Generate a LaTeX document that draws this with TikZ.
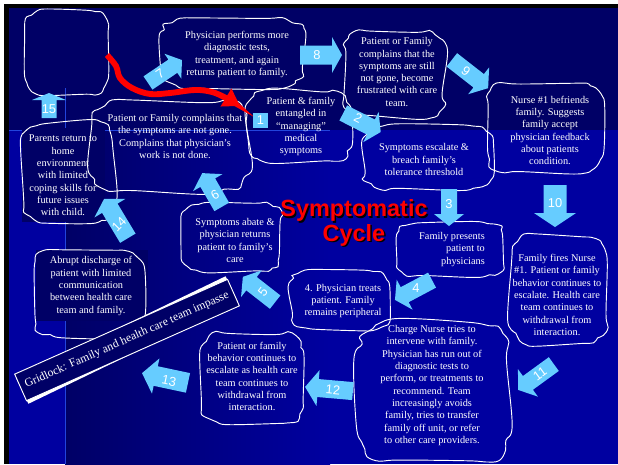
\documentclass[tikz,border=0pt]{standalone}
\usepackage{fontspec}
\setmainfont{Liberation Serif}
\setsansfont{Liberation Sans}
\usetikzlibrary{arrows.meta}
\newcommand{\pxu}{0.03cm}
\definecolor{navydark}{HTML}{000066}
\definecolor{navybright}{HTML}{0000A0}
\definecolor{stepblue}{HTML}{66CCFF}
\definecolor{gridline}{HTML}{2244DD}
% block arrow: name, position, angle, length, half shaft, half head, head length
\newcommand{\steparrow}[7]{%
  \fill[stepblue, shift={#2}, rotate=#3] (-#4/2,-#5) -- (#4/2-#7,-#5) -- (#4/2-#7,-#6)
    -- (#4/2,0) -- (#4/2-#7,#6) -- (#4/2-#7,#5) -- (-#4/2,#5) -- cycle;
  \coordinate (#1) at #2;}
% wobbly outline: name, x, y, half width, half height
\newcommand{\blob}[5]{%
  \draw[blobline] plot[smooth cycle, tension=0.65, domain=7.5:352.5, samples=24, variable=\t]
    ({#2+#4*cos(\t)/abs(cos(\t))^0.62*(1+0.055*rand)}, {#3+#5*sin(\t)/abs(sin(\t))^0.62*(1+0.055*rand)});
  \coordinate (#1) at (#2,#3);}
\tikzset{
  blobline/.style={draw=white, line width=0.8pt},
  txt/.style={text=white, align=center, inner sep=0pt,
    font=\fontsize{8.8}{10.5}\selectfont},
  stepnum/.style={text=white, inner sep=0pt, font=\sffamily\fontsize{11}{11}\selectfont},
  titletxt/.style={align=center, inner sep=0pt, font=\sffamily\bfseries\fontsize{20}{21}\selectfont},
  bannerbox/.style={rotate=24, inner sep=0pt, minimum width=233*\pxu, minimum height=29*\pxu},
}
\begin{document}
\begin{tikzpicture}[x=\pxu, y=-\pxu]
  \pgfmathsetseed{11}
  \useasboundingbox (0,0) rectangle (618,464);
  % slide background
  \fill[white] (0,0) rectangle (618,464);
  \fill[black] (4,4) rectangle (618,464);
  \fill[navydark] (9,8) rectangle (618,130);
  \fill[navybright] (9,130) rectangle (65,464);
  \shade[left color=navydark, right color=navybright] (65,130) rectangle (330,464);
  \fill[navybright] (330,130) rectangle (618,464);
  \draw[gridline, line width=0.6pt] (9,130) -- (330,130);
  \draw[gridline, line width=0.6pt] (65,88) -- (65,464);
  \fill[navydark] (22,128) rectangle (105,222);
  \fill[navydark] (36,250) rectangle (148,321);

  % clouds
  \blob{blank}{66.5}{52.5}{41.5}{42.5}
  \blob{moretests}{232.5}{53}{72.5}{35}
  \blob{stillsick}{394}{74}{51}{44}
  \blob{befriend}{544}{127.5}{59}{45.5}
  \blob{entangled}{298.5}{126.5}{51.5}{36.5}
  \blob{notgone}{170}{146.5}{80}{46.5}
  \blob{parents}{68.5}{172}{46.5}{50}
  \blob{escalate}{429}{157.5}{66}{32.5}
  \blob{presents}{451}{249.5}{54}{27.5}
  \blob{fires}{559}{290}{49}{55}
  \blob{treats}{340}{300}{50}{30}
  \blob{charge}{433.5}{392.5}{76.5}{70.5}
  \blob{withdraw}{252.5}{377.5}{52.5}{45.5}
  \blob{abate}{232}{237.5}{50}{34.5}
  \blob{discharge}{88}{292.5}{55}{44.5}

  % texts
  \node[txt] (tmoretests) at (237,54.5) {Physician performs more\\diagnostic tests,\\treatment, and again\\returns patient to family.};
  \node[txt] (tstillsick) at (397,72) {Patient or Family\\complains that the\\symptoms are still\\not gone, become\\frustrated with care\\team.};
  \node[txt] (tbefriend) at (550,130.5) {Nurse \#1 befriends\\family. Suggests\\family accept\\physician feedback\\about patients\\condition.};
  \node[txt] (tentangled) at (301,126.5) {Patient \& family\\entangled in\\“managing”\\medical\\symptoms};
  \node[txt] (tnotgone) at (175,136.5) {Patient or Family complains that\\the symptoms are not gone.\\Complains that physician’s\\work is not done.};
  \node[txt] (tparents) at (63,175.5) {Parents return to\\home\\environment\\with limited\\coping skills for\\future issues\\with child.};
  \node[txt] (tescalate) at (424,159.5) {Symptoms escalate \&\\breach family’s\\tolerance threshold};
  \node[txt, align=right, anchor=east] (tpresents) at (485,249.5) {Family presents\\patient to\\physicians};
  \node[txt] (tfires) at (557,295) {Family fires Nurse\\\#1. Patient or family\\behavior continues to\\escalate. Health care\\team continues to\\withdrawal from\\interaction.};
  \node[txt] (ttreats) at (343,301) {4. Physician treats\\patient. Family\\remains peripheral};
  \node[txt] (tcharge) at (432,385.5) {Charge Nurse tries to\\intervene with family.\\Physician has run out of\\diagnostic tests to\\perform, or treatments to\\recommend. Team\\increasingly avoids\\family, tries to transfer\\family off unit, or refer\\to other care providers.};
  \node[txt] (twithdraw) at (252,376.5) {Patient or family\\behavior continues to\\escalate as health care\\team continues to\\withdrawal from\\interaction.};
  \node[txt] (tabate) at (235,240.5) {Symptoms abate \&\\physician returns\\patient to family’s\\care};
  \node[txt] (tdischarge) at (91,286) {Abrupt discharge of\\patient with limited\\communication\\between health care\\team and family.};

  % title
  \node[titletxt, text=black] (titleshadow) at (355.5,224.5) {Symptomatic\\Cycle};
  \node[titletxt, text=red] (title) at (354,223) {Symptomatic\\Cycle};

  % gridlock banner
  \node[bannerbox, fill=white, rotate=1.8] (gridshadow) at (127,340) {};
  \node[bannerbox, draw=white, line width=0.8pt, fill=navydark, text=white,
    font=\fontsize{10}{12}\selectfont] (gridlock) at (127,340)
    {Gridlock: Family and health care team impasse};

  % red path
  \coordinate (redstart) at (107,55);
  \coordinate (redend) at (240,106);
  \draw[red, line width=5pt, -{Triangle[length=14pt, width=17pt]}]
    plot[smooth, tension=0.6] coordinates {(redstart) (116,66) (120,78) (132,88)
      (150,94) (170,93) (195,90) (212,92) (226,98) (redend)};

  % step arrows
  \node[fill=stepblue, minimum size=15*\pxu, inner sep=0pt, stepnum] (one) at (260.5,120.5) {1};
  \steparrow{a2}{(362,122.5)}{-27}{42}{8.5}{17}{11}
  \steparrow{a3}{(449,207.5)}{-90}{37}{8}{15}{12}
  \steparrow{a4}{(413.5,290)}{208}{42}{8.5}{17}{11}
  \steparrow{a5}{(259,289.5)}{142}{41}{8.5}{17}{11}
  \steparrow{a6}{(212,190)}{120}{39}{8.5}{17}{11}
  \steparrow{a7}{(165,71.5)}{34}{41}{8}{15}{11}
  \steparrow{a8}{(321,55)}{0}{42}{9.5}{18}{10}
  \steparrow{a9}{(470,74)}{-38}{46}{8.5}{17}{12}
  \steparrow{a10}{(555,206)}{-90}{42}{11.5}{21}{14}
  \steparrow{a11}{(536,377)}{216}{44}{8.5}{17}{12}
  \steparrow{a12}{(329,389)}{175}{48}{9}{18}{13}
  \steparrow{a13}{(165,378)}{168}{47}{10}{18}{14}
  \steparrow{a14}{(116,218.5)}{121}{46}{9}{18}{11}
  \steparrow{a15}{(49,105.5)}{90}{25}{7.5}{17}{7}

  \node[stepnum, rotate=-27] (n2) at (358,118) {2};
  \node[stepnum] (n3) at (449,204) {3};
  \node[stepnum] (n4) at (416,288) {4};
  \node[stepnum, rotate=52] (n5) at (263,292) {5};
  \node[stepnum, rotate=30] (n6) at (215,195) {6};
  \node[stepnum, rotate=34] (n7) at (160,74) {7};
  \node[stepnum] (n8) at (317,55) {8};
  \node[stepnum, rotate=-38] (n9) at (466,71) {9};
  \node[stepnum] (n10) at (555,203) {10};
  \node[stepnum, rotate=36] (n11) at (540,374) {11};
  \node[stepnum, rotate=-5] (n12) at (333,390) {12};
  \node[stepnum, rotate=-12] (n13) at (169,381) {13};
  \node[stepnum, rotate=45] (n14) at (119,224) {14};
  \node[stepnum] (n15) at (49,109) {15};
\end{tikzpicture}
\end{document}
